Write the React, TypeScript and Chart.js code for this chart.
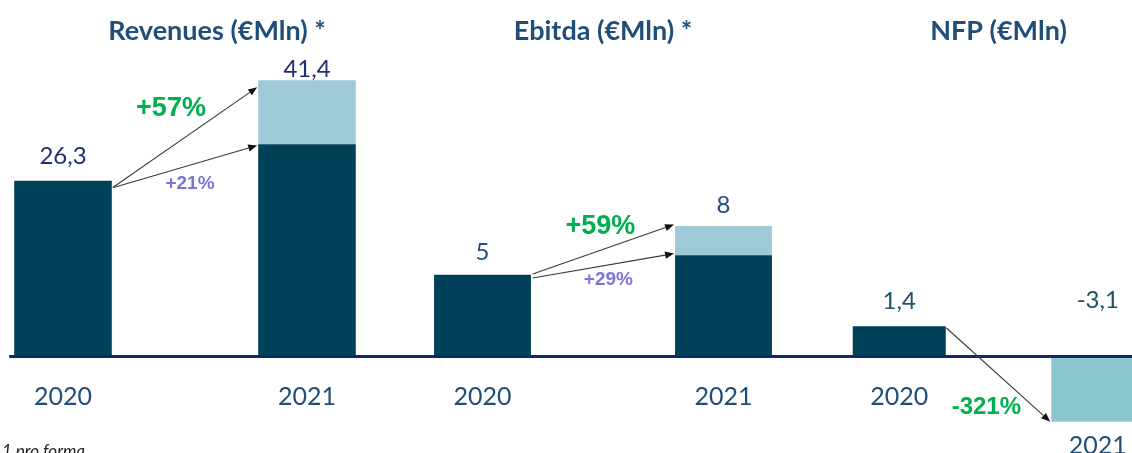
import React, { useEffect, useRef } from "react";
import { Chart, registerables } from "chart.js";

Chart.register(...registerables);

// ---------- data ----------
const years = ["2020", "2021"];
const titles = ["Revenues (€Mln) *", "Ebitda (€Mln) *", "NFP (€Mln)"];

const revenueReported: (number | null)[] = [26.3, 31.8];
const revenueProForma: (number | null)[] = [null, 9.6];
const revenueGrowth = ["+57%", "+21%"];

const ebitdaReported: (number | null)[] = [5, 6.2];
const ebitdaProForma: (number | null)[] = [null, 1.8];
const ebitdaGrowth = ["+59%", "+29%"];

const nfpValues: (number | null)[] = [1.4, -3.1];
const nfpGrowth = ["-321%"];

const footnote = "1 pro forma";

// ---------- styles ----------
const DARK = "#00415a";
const LIGHT = "#9ec9d6";
const NFP_LIGHT = "#8cc7cf";
const GREEN = "#00b050";
const PURPLE = "#7a74d8";
const AXIS = "#10296a";
const TITLE = "#1f4e79";
const YEAR = "#1f4e79";
const H = 453;

const fmt = (v: number) => String(Math.round(v * 10) / 10).replace(".", ",");

type ArrowSpec = {
  to: number;
  edge: "top" | "bottom";
  dxFrom: number;
  dyFrom: number;
  dyTo: number;
  label: string;
  font: string;
  color: string;
  ldx: number;
  ldy: number;
};

type PanelCfg = {
  key: string;
  left: number;
  width: number;
  yMin: number;
  yMax: number;
  barPct: number;
  datasets: { data: (number | null)[]; color: string | string[] }[];
  title: string;
  titleDx: number;
  valueColor: string;
  valueGaps: number[];
  lineStartPad: number | null;
  arrows: ArrowSpec[];
  footnote?: string;
};

const BIG = 'bold 27px "Liberation Sans", Arial, sans-serif';
const SMALL = 'bold 19px "Liberation Sans", Arial, sans-serif';

const panels: PanelCfg[] = [
  {
    key: "rev",
    left: -59,
    width: 488,
    yMin: -97 / 6.66,
    yMax: 356 / 6.66,
    barPct: 0.4,
    datasets: [
      { data: revenueReported, color: DARK },
      { data: revenueProForma, color: LIGHT },
    ],
    title: titles[0],
    titleDx: 32,
    valueColor: "#1f3070",
    valueGaps: [17, 3],
    lineStartPad: 5,
    arrows: [
      { to: 1, edge: "top", dxFrom: 1, dyFrom: 6.7, dyTo: 7, label: revenueGrowth[0], font: BIG, color: GREEN, ldx: -14, ldy: -29 },
      { to: 0, edge: "top", dxFrom: 1, dyFrom: 7, dyTo: 1.3, label: revenueGrowth[1], font: SMALL, color: PURPLE, ldx: 5, ldy: 17 },
    ],
    footnote,
  },
  {
    key: "ebitda",
    left: 362,
    width: 482,
    yMin: -97 / 16.25,
    yMax: 356 / 16.25,
    barPct: 0.402,
    datasets: [
      { data: ebitdaReported, color: DARK },
      { data: ebitdaProForma, color: LIGHT },
    ],
    title: titles[1],
    titleDx: 0,
    valueColor: "#1f4e86",
    valueGaps: [15, 13.5],
    lineStartPad: null,
    arrows: [
      { to: 1, edge: "top", dxFrom: 1.7, dyFrom: -0.7, dyTo: -1.4, label: ebitdaGrowth[0], font: BIG, color: GREEN, ldx: -3, ldy: -23 },
      { to: 0, edge: "top", dxFrom: 1.7, dyFrom: 3.3, dyTo: -1.7, label: ebitdaGrowth[1], font: SMALL, color: PURPLE, ldx: 5, ldy: 14 },
    ],
  },
  {
    key: "nfp",
    left: 800,
    width: 397,
    yMin: -97 / 21.2,
    yMax: 356 / 21.2,
    barPct: 0.4685,
    datasets: [{ data: nfpValues, color: [DARK, NFP_LIGHT] }],
    title: titles[2],
    titleDx: 0,
    valueColor: "#1d4f66",
    valueGaps: [17, 48],
    lineStartPad: null,
    arrows: [
      { to: 0, edge: "bottom", dxFrom: 0.7, dyFrom: 1.7, dyTo: 0, label: nfpGrowth[0], font: 'bold 24px "Liberation Sans", Arial, sans-serif', color: GREEN, ldx: -12, ldy: 33 },
    ],
  },
];

function drawArrow(ctx: CanvasRenderingContext2D, x1: number, y1: number, x2: number, y2: number) {
  const ang = Math.atan2(y2 - y1, x2 - x1);
  const head = 9;
  const half = 3.6;
  const bx = x2 - head * Math.cos(ang);
  const by = y2 - head * Math.sin(ang);
  ctx.save();
  ctx.strokeStyle = "#3a3a3a";
  ctx.lineWidth = 1.1;
  ctx.beginPath();
  ctx.moveTo(x1, y1);
  ctx.lineTo(bx, by);
  ctx.stroke();
  ctx.fillStyle = "#111111";
  ctx.beginPath();
  ctx.moveTo(x2, y2);
  ctx.lineTo(bx - half * Math.sin(ang), by + half * Math.cos(ang));
  ctx.lineTo(bx + half * Math.sin(ang), by - half * Math.cos(ang));
  ctx.closePath();
  ctx.fill();
  ctx.restore();
}

const overlayPlugin = {
  id: "overlay",
  afterDatasetsDraw(chart: any, _args: any, opts: any) {
    const cfg: PanelCfg = opts.cfg;
    if (!cfg) return;
    const ctx: CanvasRenderingContext2D = chart.ctx;
    const area = chart.chartArea;
    const y0 = chart.scales.y.getPixelForValue(0);
    const ds = chart.data.datasets;

    const seg = (d: number, i: number) => {
      const el: any = chart.getDatasetMeta(d).data[i];
      return {
        top: Math.min(el.y, el.base),
        bottom: Math.max(el.y, el.base),
        left: el.x - el.width / 2,
        right: el.x + el.width / 2,
        cx: el.x,
      };
    };

    const boxes = years.map((_, i) => {
      let top = Infinity, bottom = -Infinity, left = 0, right = 0, cx = 0, total = 0;
      ds.forEach((dset: any, d: number) => {
        const v = dset.data[i];
        if (v == null) return;
        const s = seg(d, i);
        top = Math.min(top, s.top);
        bottom = Math.max(bottom, s.bottom);
        left = s.left;
        right = s.right;
        cx = s.cx;
        total += v;
      });
      return { top, bottom, left, right, cx, total };
    });

    ctx.save();
    // zero line
    const startX = cfg.lineStartPad != null ? boxes[0].left - cfg.lineStartPad : area.left;
    ctx.fillStyle = AXIS;
    ctx.fillRect(startX, y0 - 1, area.right - startX, 3);

    // value labels and year labels
    ctx.textAlign = "center";
    ctx.textBaseline = "alphabetic";
    boxes.forEach((b, i) => {
      const neg = b.total < 0;
      ctx.font = '24px "Lato", sans-serif';
      ctx.fillStyle = cfg.valueColor;
      const vy = neg ? y0 - cfg.valueGaps[i] : b.top - cfg.valueGaps[i];
      ctx.fillText(fmt(b.total), b.cx, vy);
      ctx.font = '25px "Lato", sans-serif';
      ctx.fillStyle = YEAR;
      const yy = neg ? b.bottom + 32 : y0 + 49;
      ctx.fillText(years[i], b.cx, yy);
    });

    // arrows and growth labels
    cfg.arrows.forEach((a) => {
      const x1 = boxes[0].right + a.dxFrom;
      const y1 = boxes[0].top + a.dyFrom;
      const t = seg(a.to, 1);
      const x2 = t.left - 1;
      const y2 = (a.edge === "top" ? t.top : t.bottom) + a.dyTo;
      drawArrow(ctx, x1, y1, x2, y2);
      ctx.font = a.font;
      ctx.fillStyle = a.color;
      ctx.textBaseline = "middle";
      ctx.fillText(a.label, (x1 + x2) / 2 + a.ldx, (y1 + y2) / 2 + a.ldy);
      ctx.textBaseline = "alphabetic";
    });

    // title
    ctx.font = 'bold 27px "Lato", sans-serif';
    ctx.fillStyle = TITLE;
    ctx.fillText(cfg.title, (area.left + area.right) / 2 + cfg.titleDx, 39.5);

    // footnote
    if (cfg.footnote) {
      ctx.textAlign = "left";
      ctx.font = 'italic 17px "Lato", sans-serif';
      ctx.fillStyle = "#222222";
      ctx.fillText(cfg.footnote, 2 - cfg.left, 457);
    }
    ctx.restore();
  },
};

function Panel({ cfg }: { cfg: PanelCfg }) {
  const ref = useRef<HTMLCanvasElement>(null);
  useEffect(() => {
    if (!ref.current) return;
    const chart = new Chart(ref.current, {
      type: "bar",
      data: {
        labels: years,
        datasets: cfg.datasets.map((d, i) => ({
          label: cfg.key + i,
          data: d.data as any,
          backgroundColor: d.color as any,
          borderWidth: 0,
          barPercentage: cfg.barPct,
          categoryPercentage: 1,
        })),
      },
      options: {
        responsive: false,
        animation: false,
        devicePixelRatio: 1,
        layout: { padding: 0 },
        scales: {
          x: { display: false, stacked: true, grid: { display: false } },
          y: { display: false, stacked: true, min: cfg.yMin, max: cfg.yMax, grid: { display: false } },
        },
        plugins: {
          legend: { display: false },
          tooltip: { enabled: false },
          title: { display: false },
          overlay: { cfg },
        } as any,
      },
      plugins: [overlayPlugin as any],
    });
    return () => chart.destroy();
  }, [cfg]);
  return (
    <canvas
      ref={ref}
      width={cfg.width}
      height={H}
      style={{ position: "absolute", left: cfg.left, top: 0, width: cfg.width, height: H }}
    />
  );
}

export default function App() {
  return (
    <div
      style={{
        position: "fixed",
        left: 0,
        top: 0,
        width: 1132,
        height: H,
        overflow: "hidden",
        background: "#ffffff",
      }}
    >
      {panels.map((p) => (
        <Panel key={p.key} cfg={p} />
      ))}
    </div>
  );
}
